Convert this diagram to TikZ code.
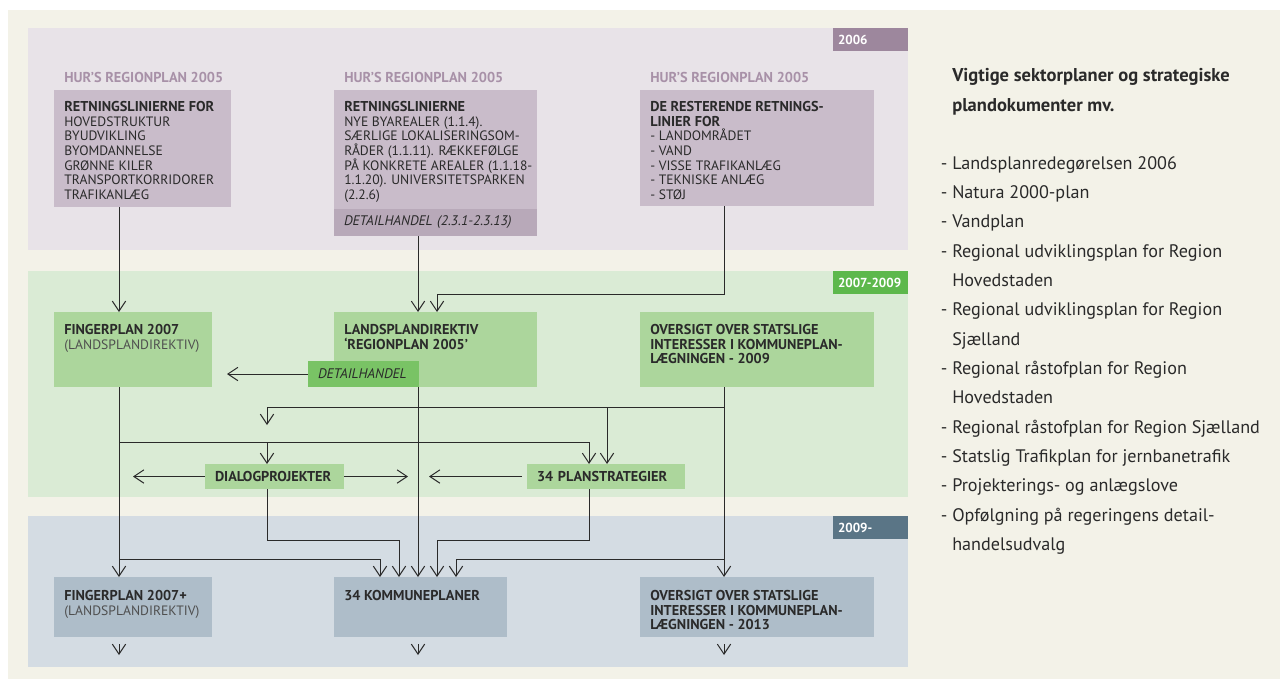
\documentclass[tikz,border=0pt]{standalone}
\usepackage{fontspec}
\setmainfont{PT Sans}
\usetikzlibrary{arrows.meta}

\definecolor{bgcream}{HTML}{F3F2E8}
\definecolor{bandTop}{HTML}{E8E3E8}
\definecolor{boxTop}{HTML}{C9BCCA}
\definecolor{stripTop}{HTML}{B8A9B9}
\definecolor{tagTop}{HTML}{9D879D}
\definecolor{headTop}{HTML}{A891A8}
\definecolor{bandMid}{HTML}{DAEBD5}
\definecolor{boxMid}{HTML}{ACD69C}
\definecolor{stripMid}{HTML}{79C365}
\definecolor{tagMid}{HTML}{5DB84C}
\definecolor{bandLow}{HTML}{D4DCE3}
\definecolor{boxLow}{HTML}{AEBDC9}
\definecolor{tagLow}{HTML}{5A7586}
\definecolor{ink}{HTML}{2A2A2A}
\definecolor{inkSoft}{HTML}{4F4F4F}

% bold lines in the plan boxes
\newcommand{\bx}[1]{{\fontsize{10.7}{11}\selectfont\bfseries #1}}

\tikzset{
  planbox/.style={anchor=north west, inner sep=0pt, outer sep=0pt},
  smallbox/.style={planbox, inner xsep=7.5pt, align=left, font=\fontsize{10.7}{11}\selectfont\bfseries, text=ink},
  yeartag/.style={planbox, inner xsep=3.75pt, minimum width=56.25pt, minimum height=17.25pt,
    text width=48.75pt, align=left, font=\fontsize{9.8}{11}\selectfont\bfseries, text=white},
  boxtxt/.style={anchor=north west, inner sep=0pt, align=left, font=\fontsize{10.2}{11}\selectfont, text=ink},
  headtxt/.style={anchor=north west, inner sep=0pt, font=\fontsize{10.75}{11}\selectfont\bfseries, text=headTop},
  sidetxt/.style={anchor=north west, inner sep=0pt, align=left, font=\fontsize{13.6}{22}\selectfont, text=ink},
  flow/.style={draw=ink, line width=0.75pt, -{Straight Barb[length=7.5pt,width=10pt]}}
}

\begin{document}
\begin{tikzpicture}[x=0.75pt,y=-0.75pt]
\useasboundingbox (0,0) rectangle (1280,679);
\fill[white] (0,0) rectangle (1280,679);
\fill[bgcream] (8,10) rectangle (1280,679);

% bands
\fill[bandTop] (28,28) rectangle (908,250);
\fill[bandMid] (28,271) rectangle (908,497);
\fill[bandLow] (28,516) rectangle (908,667);

\node[yeartag, fill=tagTop] (tag06) at (833,28) {2006};
\node[yeartag, fill=tagMid] (tag07) at (833,271) {2007-2009};
\node[yeartag, fill=tagLow] (tag09) at (833,516) {2009-};

% 2006
\node[headtxt] (hdA) at (64,72) {HUR’S REGIONPLAN 2005};
\node[headtxt] (hdB) at (344,72) {HUR’S REGIONPLAN 2005};
\node[headtxt] (hdC) at (650,72) {HUR’S REGIONPLAN 2005};

\node[planbox, fill=boxTop, minimum width=132.75pt, minimum height=87.75pt] (hurA) at (54,90) {};
\node[boxtxt] (hurAt) at (64,101) {\bx{RETNINGSLINIERNE FOR}\\HOVEDSTRUKTUR\\BYUDVIKLING\\BYOMDANNELSE\\GRØNNE KILER\\TRANSPORTKORRIDORER\\TRAFIKANLÆG};

\node[planbox, fill=boxTop, minimum width=152.25pt, minimum height=109.5pt] (hurB) at (334,90) {};
\node[boxtxt] (hurBt) at (344,101) {\bx{RETNINGSLINIERNE}\\NYE BYAREALER (1.1.4).\\SÆRLIGE LOKALISERINGSOM-\\RÅDER (1.1.11). RÆKKEFØLGE\\PÅ KONKRETE AREALER (1.1.18-\\1.1.20). UNIVERSITETSPARKEN\\(2.2.6)};
\node[smallbox, fill=stripTop, minimum width=152.25pt, minimum height=20.25pt, text width=137.25pt,
  font=\fontsize{10.4}{11}\selectfont\itshape] (hurBs) at (334,209) {DETAILHANDEL (2.3.1-2.3.13)};

\node[planbox, fill=boxTop, minimum width=175.5pt, minimum height=87pt] (hurC) at (640,90) {};
\node[boxtxt] (hurCt) at (650,101) {\bx{DE RESTERENDE RETNINGS-}\\\bx{LINIER FOR}\\- LANDOMRÅDET\\- VAND\\- VISSE TRAFIKANLÆG\\- TEKNISKE ANLÆG\\- STØJ};

% 2007-2009
\node[planbox, fill=boxMid, minimum width=118.5pt, minimum height=56.25pt] (fp07) at (54,312) {};
\node[boxtxt] (fp07t) at (64,324) {\bx{FINGERPLAN 2007}\\\textcolor{inkSoft}{(LANDSPLANDIREKTIV)}};

\node[planbox, fill=boxMid, minimum width=152.25pt, minimum height=56.25pt] (lpd) at (334,312) {};
\node[boxtxt] (lpdt) at (344,324) {\bx{LANDSPLANDIREKTIV}\\\bx{‘REGIONPLAN 2005’}};
\node[smallbox, fill=stripMid, minimum width=83.25pt, minimum height=19.5pt, text width=68.25pt,
  font=\fontsize{10.4}{11}\selectfont\itshape] (dh) at (308,361) {DETAILHANDEL};

\node[planbox, fill=boxMid, minimum width=175.5pt, minimum height=56.25pt] (ovs09) at (640,312) {};
\node[boxtxt] (ovs09t) at (650,324) {\bx{OVERSIGT OVER STATSLIGE}\\\bx{INTERESSER I KOMMUNEPLAN-}\\\bx{LÆGNINGEN - 2009}};

\node[smallbox, fill=boxMid, minimum width=104.25pt, minimum height=18.75pt, text width=89.25pt] (dialog) at (205,464) {DIALOGPROJEKTER};
\node[smallbox, fill=boxMid, minimum width=118.5pt, minimum height=18.75pt, text width=103.5pt] (plans) at (527,464) {34 PLANSTRATEGIER};

% 2009-
\node[planbox, fill=boxLow, minimum width=118.5pt, minimum height=45pt] (fp07p) at (54,577) {};
\node[boxtxt] (fp07pt) at (64,590) {\bx{FINGERPLAN 2007+}\\\textcolor{inkSoft}{(LANDSPLANDIREKTIV)}};

\node[planbox, fill=boxLow, minimum width=129.75pt, minimum height=45pt] (kom) at (334,577) {};
\node[boxtxt] (komt) at (344,590) {\bx{34 KOMMUNEPLANER}};

\node[planbox, fill=boxLow, minimum width=175.5pt, minimum height=45pt] (ovs13) at (640,577) {};
\node[boxtxt] (ovs13t) at (650,590) {\bx{OVERSIGT OVER STATSLIGE}\\\bx{INTERESSER I KOMMUNEPLAN-}\\\bx{LÆGNINGEN - 2013}};

% columns and rows of the connectors
\coordinate (xA) at (119,0);
\coordinate (xB) at (418,0);
\coordinate (xC) at (724,0);
\coordinate (xD) at (267,0);
\coordinate (xE) at (437,0);
\coordinate (xF) at (589,0);
\coordinate (xG) at (607,0);
\coordinate (xH) at (227,0);
\coordinate (xL) at (133,0);
\coordinate (xR) at (408,0);
\coordinate (xS) at (429,0);
\coordinate (xK1) at (380,0);
\coordinate (xK2) at (399,0);
\coordinate (xK5) at (456,0);
\coordinate (r294) at (0,294);
\coordinate (r407) at (0,407);
\coordinate (r425) at (0,425);
\coordinate (r442) at (0,442);
\coordinate (r540) at (0,540);
\coordinate (r559) at (0,559);

\draw[flow] (hurA.south -| xA) -- (fp07.north -| xA);
\draw[flow] (hurB.south -| xB) -- (lpd.north -| xB);
\draw[flow] (hurC.south -| xC) |- (r294 -| xE) -- (lpd.north -| xE);
\draw[flow] (dh.west) -- (dh.west -| xH);
\draw[flow] (lpd.south -| xB) -- (kom.north -| xB);
\draw[flow] (ovs09.south -| xC) -- (ovs13.north -| xC);
\draw[flow] (r407 -| xC) -| (r425 -| xD);
\draw[flow] (r407 -| xG) -- (plans.north -| xG);
\draw[flow] (fp07.south -| xA) -- (fp07p.north -| xA);
\draw[flow] (r442 -| xA) -| (plans.north -| xF);
\draw[flow] (r442 -| xD) -- (dialog.north -| xD);
\draw[flow] (dialog.west) -- (dialog.west -| xL);
\draw[flow] (dialog.east) -- (dialog.east -| xR);
\draw[flow, shorten <=3.75pt] (plans.west) -- (plans.west -| xS);
\draw[flow] (dialog.south -| xD) |- (r540 -| xK2) -- (kom.north -| xK2);
\draw[flow] (plans.south -| xF) |- (r540 -| xE) -- (kom.north -| xE);
\draw[flow] (r559 -| xA) -| (kom.north -| xK1);
\draw[flow] (r559 -| xC) -| (kom.north -| xK5);
\draw[flow] (fp07p.south -| xA) ++(0,7) -- ++(0,11);
\draw[flow] (kom.south -| xB) ++(0,7) -- ++(0,11);
\draw[flow] (ovs13.south -| xC) ++(0,7) -- ++(0,11);

% sector plans
\node[sidetxt, font=\fontsize{13.9}{22.5}\selectfont\bfseries] (sideHd) at (952,68) {Vigtige sektorplaner og strategiske\\plandokumenter mv.};
\node[sidetxt] (sideList) at (952,156) {\llap{- }Landsplanredegørelsen 2006\\\llap{- }Natura 2000-plan\\\llap{- }Vandplan\\\llap{- }Regional udviklingsplan for Region\\Hovedstaden\\\llap{- }Regional udviklingsplan for Region\\Sjælland\\\llap{- }Regional råstofplan for Region\\Hovedstaden\\\llap{- }Regional råstofplan for Region Sjælland\\\llap{- }Statslig Trafikplan for jernbanetrafik\\\llap{- }Projekterings- og anlægslove\\\llap{- }Opfølgning på regeringens detail-\\handelsudvalg};
\end{tikzpicture}
\end{document}
